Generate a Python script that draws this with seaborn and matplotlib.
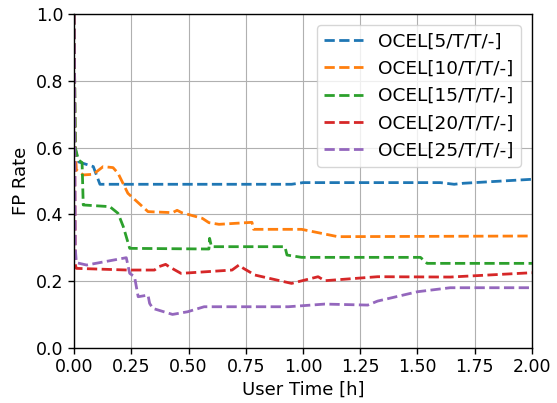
import matplotlib
matplotlib.use("Agg")
import matplotlib.pyplot as plt
import seaborn as sns
import pandas as pd

# FP rate over user time for each OCEL configuration
series_names = ["OCEL[5/T/T/-]", "OCEL[10/T/T/-]", "OCEL[15/T/T/-]",
                "OCEL[20/T/T/-]", "OCEL[25/T/T/-]"]

t_5 = [0.0, 0.005, 0.01, 0.02, 0.084, 0.113, 0.5, 0.95, 1.0, 1.6, 1.66, 1.7, 2.0]
fp_5 = [1.0, 0.60, 0.58, 0.557, 0.543, 0.49, 0.49, 0.49, 0.495, 0.495, 0.49, 0.493, 0.505]

t_10 = [0.0, 0.005, 0.01, 0.04, 0.084, 0.127, 0.17, 0.192, 0.235, 0.323, 0.43,
        0.45, 0.47, 0.56, 0.589, 0.633, 0.777, 0.784, 0.994, 1.152, 2.0]
fp_10 = [1.0, 0.60, 0.533, 0.518, 0.52, 0.543, 0.54, 0.523, 0.463, 0.408, 0.405,
         0.412, 0.405, 0.388, 0.375, 0.37, 0.376, 0.355, 0.355, 0.333, 0.335]

t_15 = [0.0, 0.005, 0.019, 0.035, 0.04, 0.156, 0.192, 0.215, 0.243, 0.589,
        0.592, 0.6, 0.921, 0.93, 0.994, 1.513, 1.542, 2.0]
fp_15 = [1.0, 0.60, 0.563, 0.555, 0.428, 0.423, 0.403, 0.363, 0.298, 0.296,
         0.328, 0.303, 0.303, 0.278, 0.271, 0.271, 0.253, 0.253]

t_20 = [0.0, 0.005, 0.01, 0.235, 0.351, 0.37, 0.40, 0.415, 0.467, 0.69, 0.72,
        0.74, 0.79, 0.95, 1.066, 1.095, 1.326, 1.643, 2.0]
fp_20 = [1.0, 0.25, 0.238, 0.233, 0.233, 0.243, 0.25, 0.243, 0.223, 0.233, 0.248,
         0.238, 0.218, 0.193, 0.213, 0.201, 0.213, 0.212, 0.225]

t_25 = [0.0, 0.005, 0.01, 0.055, 0.228, 0.243, 0.264, 0.272, 0.28, 0.323, 0.33,
        0.344, 0.43, 0.496, 0.568, 0.936, 1.095, 1.283, 1.326, 1.5, 1.643, 2.0]
fp_25 = [1.0, 0.30, 0.255, 0.248, 0.27, 0.223, 0.213, 0.183, 0.153, 0.158, 0.133,
         0.118, 0.10, 0.108, 0.123, 0.123, 0.131, 0.128, 0.14, 0.168, 0.18, 0.18]

times = [t_5, t_10, t_15, t_20, t_25]
rates = [fp_5, fp_10, fp_15, fp_20, fp_25]

frames = []
for name, t, v in zip(series_names, times, rates):
    frames.append(pd.DataFrame({"time": t, "fp": v, "series": name}))
df = pd.concat(frames, ignore_index=True)

sns.set_style("ticks")
plt.rcParams["font.family"] = ["DejaVu Sans"]
for key in ["text.color", "axes.labelcolor", "xtick.color", "ytick.color",
            "xtick.labelcolor", "ytick.labelcolor", "axes.edgecolor"]:
    plt.rcParams[key] = "black"

fig, ax = plt.subplots(figsize=(5.57, 4.03), dpi=100)
fig.subplots_adjust(left=0.133, right=0.955, top=0.965, bottom=0.137)

palette = sns.color_palette("tab10", 5)
sns.lineplot(data=df, x="time", y="fp", hue="series", style="series",
             hue_order=series_names, style_order=series_names,
             palette=palette, dashes={n: (3.7, 1.6) for n in series_names},
             sort=False, estimator=None, units="series", linewidth=2, ax=ax)

ax.set_xlim(0, 2.0)
ax.set_ylim(0, 1.0)
ax.set_xticks([0, 0.25, 0.5, 0.75, 1.0, 1.25, 1.5, 1.75, 2.0])
ax.set_xticklabels(["0.00", "0.25", "0.50", "0.75", "1.00", "1.25", "1.50", "1.75", "2.00"])
ax.set_yticks([0, 0.2, 0.4, 0.6, 0.8, 1.0])
ax.set_yticklabels(["0.0", "0.2", "0.4", "0.6", "0.8", "1.0"])
ax.tick_params(labelsize=12.5, direction="out", length=4, width=1, color="black",
               labelcolor="black")
ax.set_xlabel("User Time [h]", fontsize=13, labelpad=3)
ax.set_ylabel("FP Rate", fontsize=13)
ax.grid(True, color="#b0b0b0", linewidth=0.8)
for s in ax.spines.values():
    s.set_visible(True)
    s.set_color("black")
    s.set_linewidth(1)

leg = ax.legend(loc="upper right", fontsize=13.3, frameon=True,
                handlelength=2.1, borderaxespad=0.6)
for txt in leg.get_texts():
    txt.set_color("black")

fig.savefig("out.png", dpi=100)
